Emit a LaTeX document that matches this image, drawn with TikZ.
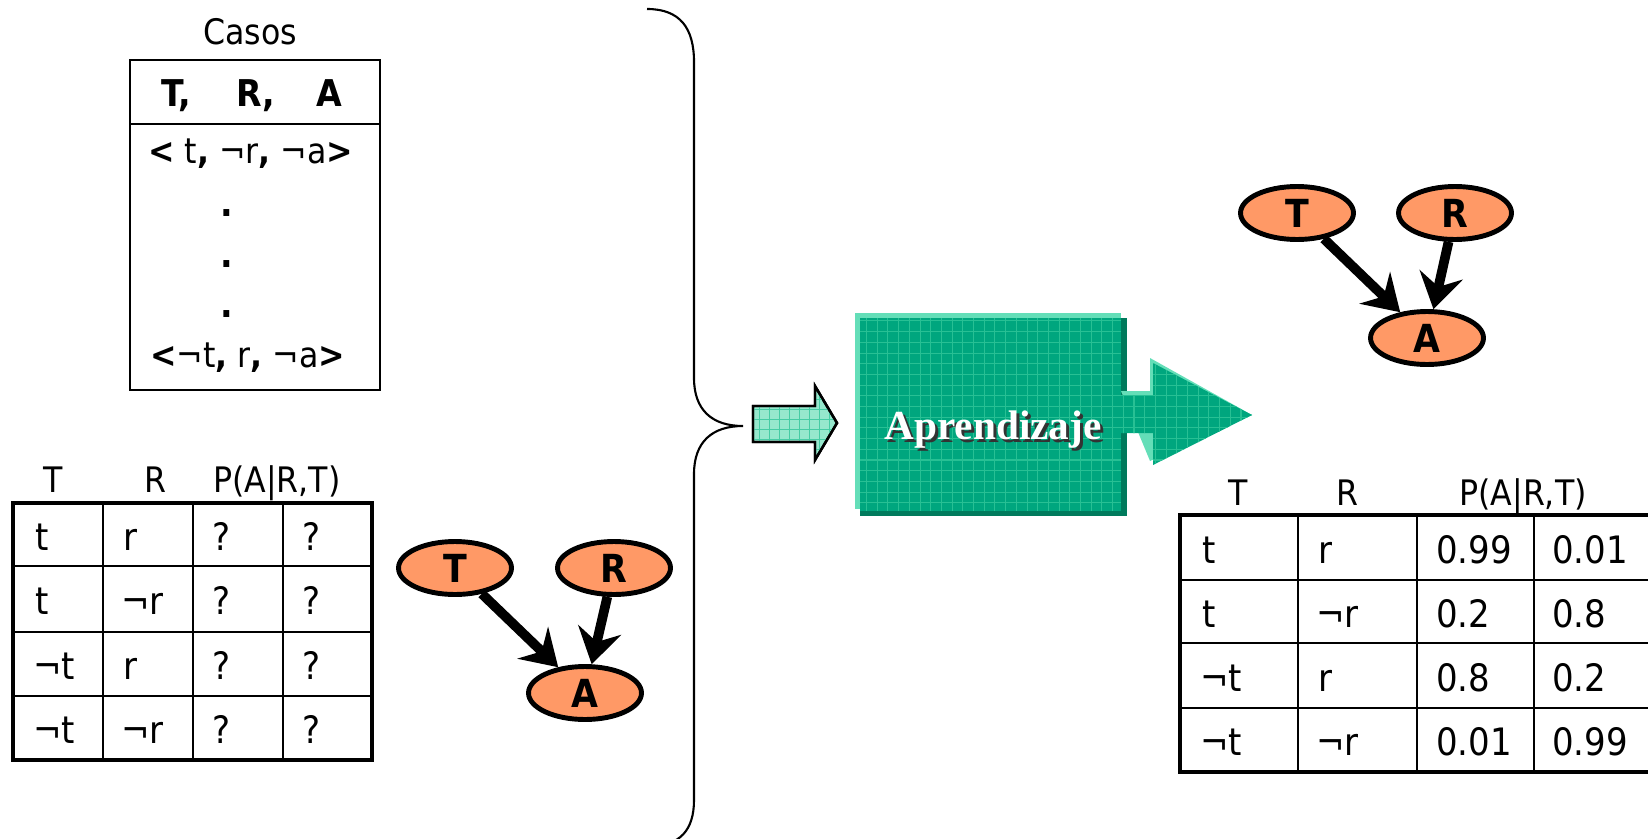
\documentclass[tikz,border=0pt]{standalone}
\usepackage{fontspec}
\setmainfont{DejaVu Sans Condensed}
\newfontfamily\boxfont{Liberation Serif}
\usetikzlibrary{arrows.meta,shapes.geometric}

\definecolor{nodeorange}{RGB}{255,153,102}
\definecolor{boxgreen}{RGB}{0,166,126}
\definecolor{boxlight}{RGB}{100,222,184}
\definecolor{boxdark}{RGB}{0,122,92}
\definecolor{gridgreen}{RGB}{40,192,148}
\definecolor{arrowlight}{RGB}{150,232,205}
\definecolor{arrowgrid}{RGB}{70,204,164}

\begin{document}
\begin{tikzpicture}[x=0.02cm,y=-0.02cm,
  main/.style = {draw, ellipse, line width=2.8pt, fill=nodeorange, inner sep=0pt,
                 minimum width=2.26cm, minimum height=1.06cm,
                 font=\fontsize{22}{22}\selectfont\bfseries},
  edge/.style = {line width=5.5pt, -{Stealth[length=20pt,width=25pt,inset=7pt]}},
  txt/.style = {inner sep=0pt, anchor=base west, font=\fontsize{20}{24}\selectfont},
  head/.style = {inner sep=0pt, anchor=base, font=\fontsize{20}{24}\selectfont},
  cell/.style = {inner sep=0pt, anchor=base west, font=\fontsize{21.5}{25}\selectfont},
  thin/.style = {line width=1.1pt},
  thick/.style = {line width=2.8pt}]
\useasboundingbox (0,0) rectangle (1648,838);

% list of cases
\node[head] (casos) at (250,45) {Casos};
\draw[line width=1.4pt] (130,60) rectangle (380,390);
\draw[thin] (130,124) -- (380,124);
\node[txt, font=\fontsize{21}{24}\selectfont\bfseries] (vT) at (161,107) {T,};
\node[txt, font=\fontsize{21}{24}\selectfont\bfseries] (vR) at (236,107) {R,};
\node[txt, font=\fontsize{21}{24}\selectfont\bfseries] (vA) at (316,107) {A};
\node[txt] (case1) at (148,163) {\textbf{<} t\textbf{,} ¬r\textbf{,} ¬a\textbf{>}};
\node[head, font=\fontsize{21}{24}\selectfont\bfseries] (dot1) at (227,216) {.};
\node[head, font=\fontsize{21}{24}\selectfont\bfseries] (dot2) at (227,267) {.};
\node[head, font=\fontsize{21}{24}\selectfont\bfseries] (dot3) at (227,317) {.};
\node[txt] (case2) at (150,367) {\textbf{<}¬t\textbf{,} r\textbf{,} ¬a\textbf{>}};

% empty table
\node[head] (lT) at (53,492) {T};
\node[head] (lR) at (155,492) {R};
\node[head] (lP) at (277,492) {P(A|R,T)};
\draw[thin] (103,503) -- (103,760) (193,503) -- (193,760) (283,503) -- (283,760)
  (13,566) -- (372,566) (13,632) -- (372,632) (13,696) -- (372,696);
\draw[thick] (13,503) rectangle (372,760);
\node[cell] (l11) at (35,550) {t};
\node[cell] (l12) at (123,550) {r};
\node[cell] (l13) at (212,550) {?};
\node[cell] (l14) at (302,550) {?};
\node[cell] (l21) at (35,614) {t};
\node[cell] (l22) at (121,614) {¬r};
\node[cell] (l23) at (212,614) {?};
\node[cell] (l24) at (302,614) {?};
\node[cell] (l31) at (33,679) {¬t};
\node[cell] (l32) at (123,679) {r};
\node[cell] (l33) at (212,679) {?};
\node[cell] (l34) at (302,679) {?};
\node[cell] (l41) at (33,743) {¬t};
\node[cell] (l42) at (121,743) {¬r};
\node[cell] (l43) at (212,743) {?};
\node[cell] (l44) at (302,743) {?};

% network before learning
\node[main] (T1) at (455,568) {T};
\node[main] (R1) at (614,568) {R};
\node[main] (A1) at (585,693) {A};
\draw[edge] (T1) -- (A1);
\draw[edge] (R1) -- (A1);

% brace
\draw[line width=1.2pt] (647,9) .. controls (680,9) and (694,28) .. (694,62) -- (694,378)
  .. controls (694,410) and (712,426) .. (743,426)
  .. controls (712,426) and (694,442) .. (694,474) -- (694,800)
  .. controls (694,830) and (680,846) .. (650,846);

% small input arrow
\draw[line width=1.4pt, fill=arrowlight] (753,406) -- (815,406) -- (815,386) -- (837,423)
  -- (815,460) -- (815,442) -- (753,442) -- cycle;
\begin{scope}
  \clip (753,406) -- (815,406) -- (815,386) -- (837,423) -- (815,460) -- (815,442) -- (753,442) -- cycle;
  \draw[arrowgrid, line width=0.5pt, step=0.2cm] (740,380) grid (840,465);
\end{scope}
\draw[line width=1.4pt] (753,406) -- (815,406) -- (815,386) -- (837,423)
  -- (815,460) -- (815,442) -- (753,442) -- cycle;

% learning box
\fill[boxlight] (855,313) rectangle (1121,509);
\fill[boxdark] (860,318) rectangle (1127,516);
\node[fill=boxgreen, inner sep=0pt, minimum width=5.22cm, minimum height=3.86cm]
  (learn) at (990.5,414.5) {};
\draw[gridgreen, line width=0.6pt, step=0.214cm] (860,318) grid (1121,511);

% output arrow
\fill[boxlight] (1121,391) -- (1150,391) -- (1150,358) -- (1252,415) -- (1150,461) -- cycle;
\fill[boxgreen] (1121,395) -- (1153,395) -- (1153,363) -- (1252,415) -- (1153,465)
  -- (1153,433) -- (1121,433) -- cycle;
\begin{scope}
  \clip (1121,395) -- (1153,395) -- (1153,363) -- (1252,415) -- (1153,465) -- (1153,433) -- (1121,433) -- cycle;
  \draw[gridgreen, line width=0.6pt, step=0.214cm] (1110,350) grid (1260,470);
\end{scope}
\node[font=\fontsize{23.5}{26}\boxfont\bfseries, text=black!80] at (996,433) {Aprendizaje};
\node[font=\fontsize{23.5}{26}\boxfont\bfseries, text=white] (learntext) at (993,430) {Aprendizaje};

% network after learning
\node[main] (T2) at (1297,213) {T};
\node[main] (R2) at (1455,213) {R};
\node[main] (A2) at (1427,338) {A};
\draw[edge] (T2) -- (A2);
\draw[edge] (R2) -- (A2);

% learned table
\node[head] (rT) at (1238,505) {T};
\node[head] (rR) at (1347,505) {R};
\node[head] (rP) at (1523,505) {P(A|R,T)};
\draw[thin] (1298,515) -- (1298,772) (1417,515) -- (1417,772) (1534,515) -- (1534,772)
  (1180,580) -- (1660,580) (1180,643) -- (1660,643) (1180,708) -- (1660,708);
\draw[thick] (1660,515) -- (1180,515) -- (1180,772) -- (1660,772);
\node[cell] (r11) at (1202,563) {t};
\node[cell] (r12) at (1318,563) {r};
\node[cell] (r13) at (1436,563) {0.99};
\node[cell] (r14) at (1552,563) {0.01};
\node[cell] (r21) at (1202,627) {t};
\node[cell] (r22) at (1316,627) {¬r};
\node[cell] (r23) at (1436,627) {0.2};
\node[cell] (r24) at (1552,627) {0.8};
\node[cell] (r31) at (1200,691) {¬t};
\node[cell] (r32) at (1318,691) {r};
\node[cell] (r33) at (1436,691) {0.8};
\node[cell] (r34) at (1552,691) {0.2};
\node[cell] (r41) at (1200,755) {¬t};
\node[cell] (r42) at (1316,755) {¬r};
\node[cell] (r43) at (1436,755) {0.01};
\node[cell] (r44) at (1552,755) {0.99};
\end{tikzpicture}
\end{document}
